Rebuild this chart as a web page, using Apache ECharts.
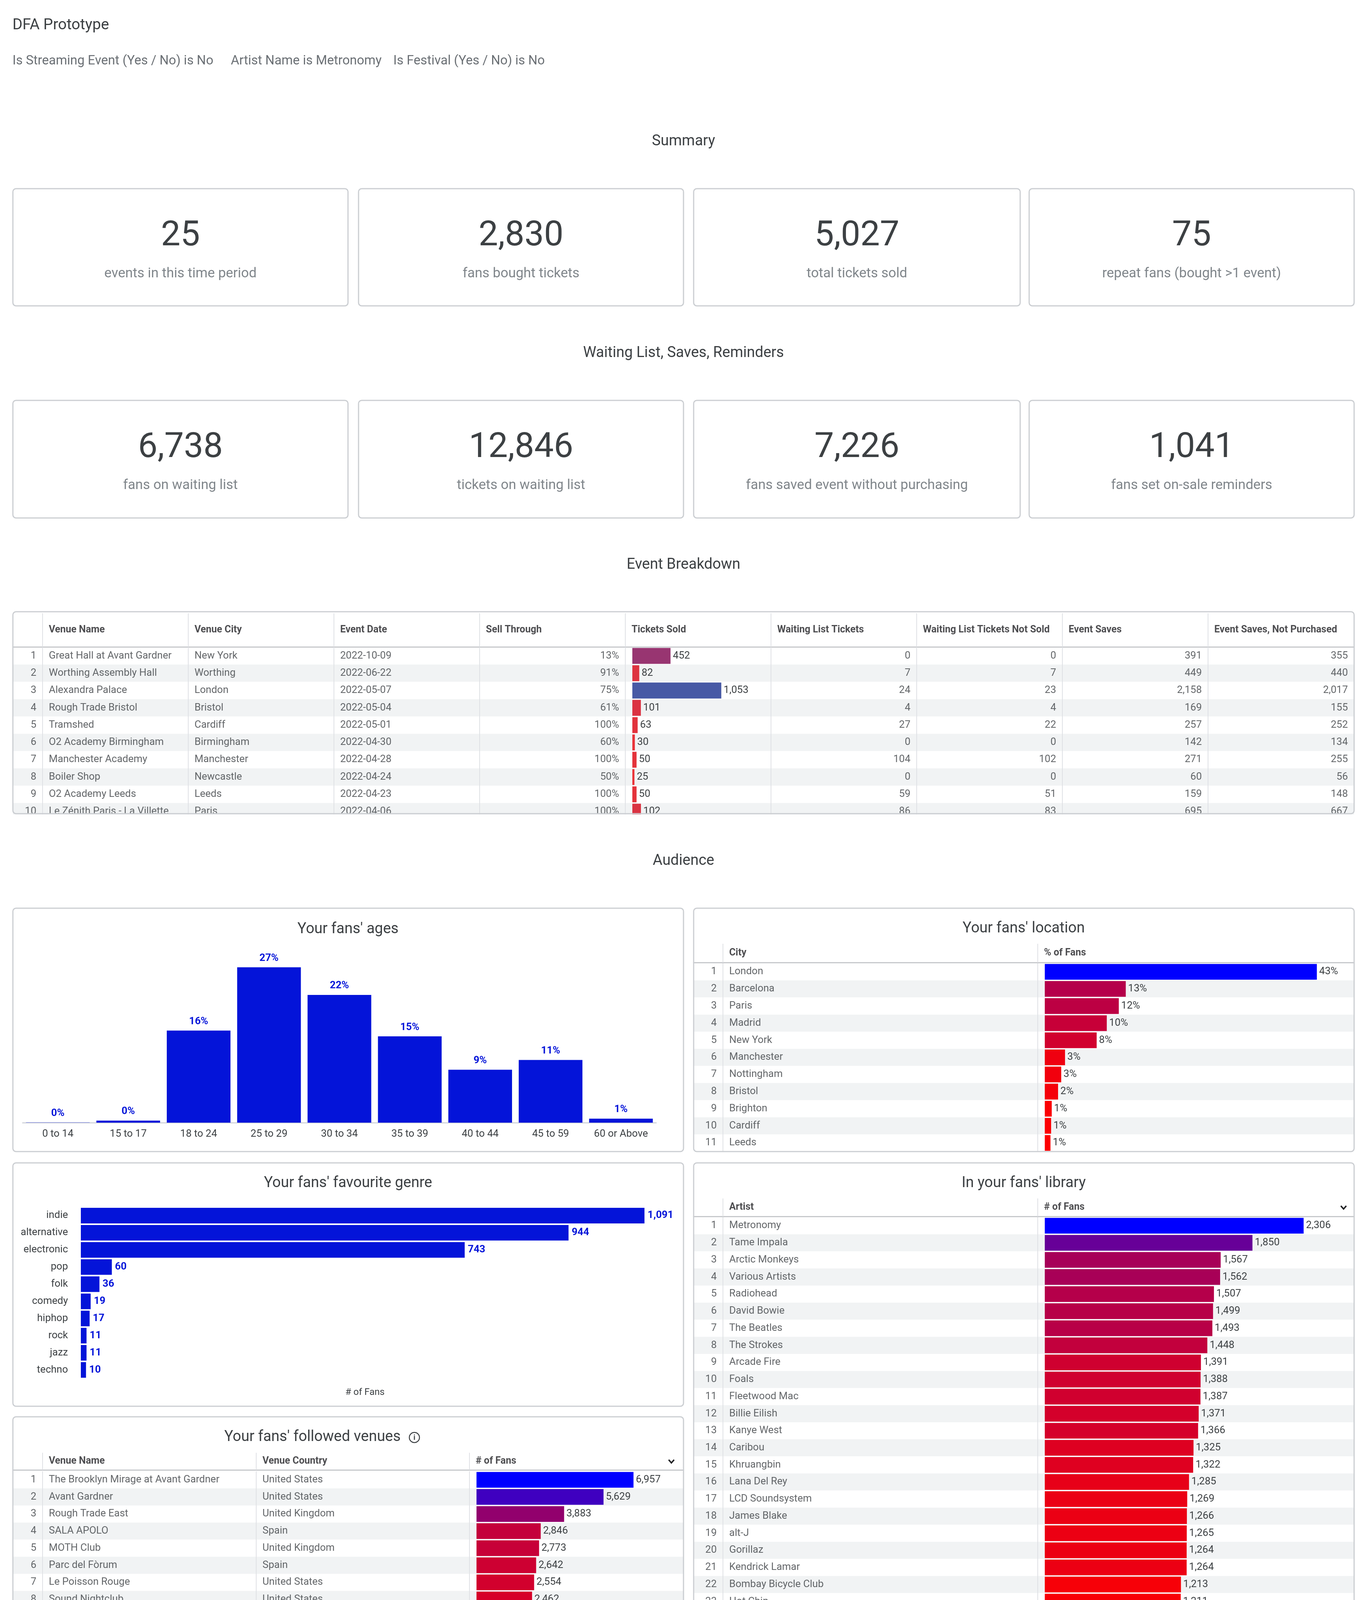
<!DOCTYPE html>
<html><head><meta charset="utf-8">
<script src="https://cdn.jsdelivr.net/npm/echarts@6/dist/echarts.min.js"></script>
<style>html,body{margin:0;padding:0;background:#fff}#c{width:3500px;height:5117px}</style>
</head><body><div id="c"></div>
<script>
// ---------------- DATA ----------------
const filterTexts = ['Is Streaming Event (Yes / No) is No', 'Artist Name is Metronomy', 'Is Festival (Yes / No) is No'];
const summaryValues = [25, 2830, 5027, 75];
const summaryLabels = ['events in this time period', 'fans bought tickets', 'total tickets sold', 'repeat fans (bought >1 event)'];
const waitingValues = [6738, 12846, 7226, 1041];
const waitingLabels = ['fans on waiting list', 'tickets on waiting list', 'fans saved event without purchasing', 'fans set on-sale reminders'];

const eventVenues = ['Great Hall at Avant Gardner', 'Worthing Assembly Hall', 'Alexandra Palace', 'Rough Trade Bristol', 'Tramshed', 'O2 Academy Birmingham', 'Manchester Academy', 'Boiler Shop', 'O2 Academy Leeds', 'Le Zénith Paris - La Villette'];
const eventCities = ['New York', 'Worthing', 'London', 'Bristol', 'Cardiff', 'Birmingham', 'Manchester', 'Newcastle', 'Leeds', 'Paris'];
const eventDates = ['2022-10-09', '2022-06-22', '2022-05-07', '2022-05-04', '2022-05-01', '2022-04-30', '2022-04-28', '2022-04-24', '2022-04-23', '2022-04-06'];
const eventSellThrough = [13, 91, 75, 61, 100, 60, 100, 50, 100, 100];
const eventTicketsSold = [452, 82, 1053, 101, 63, 30, 50, 25, 50, 102];
const eventWaitingTickets = [0, 7, 24, 4, 27, 0, 104, 0, 59, 86];
const eventWaitingNotSold = [0, 7, 23, 4, 22, 0, 102, 0, 51, 83];
const eventSaves = [391, 449, 2158, 169, 257, 142, 271, 60, 159, 695];
const eventSavesNotPurchased = [355, 440, 2017, 155, 252, 134, 255, 56, 148, 667];

const ageCategories = ['0 to 14', '15 to 17', '18 to 24', '25 to 29', '30 to 34', '35 to 39', '40 to 44', '45 to 59', '60 or Above'];
const agePercent = [0.04, 0.35, 16.0, 27.0, 22.2, 15.0, 9.2, 10.9, 0.7];

const locationCities = ['London', 'Barcelona', 'Paris', 'Madrid', 'New York', 'Manchester', 'Nottingham', 'Bristol', 'Brighton', 'Cardiff', 'Leeds'];
const locationPercent = [43.0, 12.8, 11.7, 9.8, 8.2, 3.2, 2.6, 2.1, 1.1, 1.0, 0.9];

const genreNames = ['indie', 'alternative', 'electronic', 'pop', 'folk', 'comedy', 'hiphop', 'rock', 'jazz', 'techno'];
const genreFans = [1091, 944, 743, 60, 36, 19, 17, 11, 11, 10];

const libraryArtists = ['Metronomy', 'Tame Impala', 'Arctic Monkeys', 'Various Artists', 'Radiohead', 'David Bowie', 'The Beatles', 'The Strokes', 'Arcade Fire', 'Foals', 'Fleetwood Mac', 'Billie Eilish', 'Kanye West', 'Caribou', 'Khruangbin', 'Lana Del Rey', 'LCD Soundsystem', 'James Blake', 'alt-J', 'Gorillaz', 'Kendrick Lamar', 'Bombay Bicycle Club', 'Hot Chip', 'The xx', 'The Weeknd'];
const libraryFans = [2306, 1850, 1567, 1562, 1507, 1499, 1493, 1448, 1391, 1388, 1387, 1371, 1366, 1325, 1322, 1285, 1269, 1266, 1265, 1264, 1264, 1213, 1211, 1184, 1179];

const venueNames = ['The Brooklyn Mirage at Avant Gardner', 'Avant Gardner', 'Rough Trade East', 'SALA APOLO', 'MOTH Club', 'Parc del Fòrum', 'Le Poisson Rouge', 'Sound Nightclub', 'Public Records', 'Wanderlust', 'Circolo Magnolia (Estivo)'];
const venueCountries = ['United States', 'United States', 'United Kingdom', 'Spain', 'United Kingdom', 'Spain', 'United States', 'United States', 'United States', 'France', 'Italy'];
const venueFans = [6957, 5629, 3883, 2846, 2773, 2642, 2554, 2462, 2240, 2161, 2069];

const alsoEventNames = ['Primavera Sound - Weekend 1', 'PRIMAVERA SOUND BARCELONA 2020', 'Primavera Sound - Weekend 2', 'Primavera Sound - Weekends 1 And 2', 'Wide Awake Festival 2021', 'ALL POINTS EAST: BON IVER', 'ALL POINTS EAST: THE CHEMICAL BROTHERS', 'Wide Awake 2022 - Weekend Ticket', 'All Points East Festival: Jamie xx + Kano (NHS COVID PASS REQUIRED)', 'Metronomy', 'ALL POINTS EAST: THE STROKES'];
const alsoEventDates = ['2022-06-02', '2020-08-27', '2022-06-09', '2022-06-02', '2021-09-03', '2019-06-02', '2019-05-24', '2022-05-27', '2021-08-28', '2022-05-07', '2019-05-25'];
const alsoVenueNames = ['Parc del Fòrum', 'Parc del Fòrum', 'Parc del Fòrum', 'Parc del Fòrum', 'Brockwell Park', 'Victoria Park', 'Victoria Park', 'Brockwell Park', 'Victoria Park', 'Alexandra Palace', 'Victoria Park'];
const alsoFans = [1175, 911, 800, 591, 579, 556, 547, 545, 518, 514, 509];

// ---------------- HELPERS ----------------
const FONT = 'Roboto, "Noto Sans", "DejaVu Sans", sans-serif';
const TXT = '#3c4043';
const BLUE = '#0414d9';
const fmtNum = v => Number(v).toLocaleString('en-US');
const fmtPct = v => Math.round(v) + '%';

function hexToRgb(h) { h = h.replace('#', ''); return [parseInt(h.substr(0, 2), 16), parseInt(h.substr(2, 2), 16), parseInt(h.substr(4, 2), 16)]; }
function lerpColor(t, stops) {
  if (echarts.color && echarts.color.lerp) return echarts.color.lerp(t, stops);
  const n = stops.length - 1, p = t * n, i = Math.min(Math.floor(p), n - 1), f = p - i;
  const a = hexToRgb(stops[i]), b = hexToRgb(stops[i + 1]);
  return 'rgb(' + a.map((c, k) => Math.round(c + (b[k] - c) * f)).join(',') + ')';
}
function scaleColor(v, lo, hi, stops) {
  const t = Math.max(0, Math.min(1, (v - lo) / (hi - lo)));
  return lerpColor(t, stops);
}

const option = {
  animation: false,
  backgroundColor: '#ffffff',
  textStyle: { fontFamily: FONT },
  grid: [], xAxis: [], yAxis: [], series: [],
  graphic: { elements: [] }
};
const G = option.graphic.elements;

function addGrid(grid, xa, ya) {
  const i = option.grid.length;
  option.grid.push(Object.assign({ containLabel: false }, grid));
  option.xAxis.push(Object.assign({ gridIndex: i }, xa));
  option.yAxis.push(Object.assign({ gridIndex: i }, ya));
  return i;
}
function text(x, y, str, size, color, align, weight, z) {
  G.push({ type: 'text', x: x, y: y, z: z || 110, silent: true,
    style: { text: str, fontSize: size, fontFamily: FONT, fontWeight: weight || 'normal', fill: color,
      align: align || 'left', textAlign: align || 'left', verticalAlign: 'middle', textVerticalAlign: 'middle' } });
}
function card(x1, y1, x2, y2) {
  G.push({ type: 'rect', z: 105, silent: true, shape: { x: x1, y: y1, width: x2 - x1, height: y2 - y1, r: 8 },
    style: { fill: 'none', stroke: '#cbced2', lineWidth: 3 } });
}
function chevron(x, y) {
  G.push({ type: 'polyline', z: 110, silent: true, shape: { points: [[x - 7, y - 4], [x, y + 4], [x + 7, y - 4]] },
    style: { fill: 'none', stroke: '#202124', lineWidth: 3.5 } });
}

function table(t) {
  const W = t.right - t.left;
  const starts = []; let acc = 0;
  t.cols.forEach(c => { starts.push(acc); acc += c.w; });
  const sep = { silent: true, symbol: ['none', 'none'], label: { show: false }, emphasis: { disabled: true }, animation: false,
    lineStyle: { color: '#dfe1e5', width: 2, type: 'solid' }, data: starts.slice(1).map(b => ({ xAxis: b })) };
  const rowIds = Array.from({ length: t.n }, (_, i) => String(i + 1));
  // header
  const hg = addGrid({ left: t.left, top: t.headTop, width: W, height: t.headH },
    { type: 'value', min: 0, max: W, position: 'bottom', axisLine: { show: true, onZero: false, lineStyle: { color: '#c7c9cc', width: 3 } },
      axisTick: { show: false }, axisLabel: { show: false }, splitLine: { show: false } },
    { type: 'category', data: ['header'], show: false });
  option.series.push({ type: 'scatter', xAxisIndex: hg, yAxisIndex: hg, symbolSize: 1, silent: true, itemStyle: { color: 'rgba(0,0,0,0)' },
    data: t.cols.map((c, i) => c.title ? { value: [starts[i] + 16, 0], name: c.title } : null).filter(Boolean),
    label: { show: true, position: 'inside', formatter: '{b}', align: 'left', verticalAlign: 'middle', fontSize: 25, fontWeight: 'bold', color: '#202124', fontFamily: FONT },
    markLine: sep });
  // body
  const bg = addGrid({ left: t.left, top: t.bodyTop, width: W, height: t.n * t.rowH },
    { type: 'value', min: 0, max: W, show: false },
    { type: 'category', inverse: true, data: rowIds, axisLine: { show: false }, axisTick: { show: false },
      axisLabel: { show: false, interval: 0 }, splitLine: { show: false },
      splitArea: { show: true, interval: 0, areaStyle: { color: ['#ffffff', '#f1f3f4'] } } });
  t.cols.forEach((c, i) => {
    const vals = c.index ? rowIds : c.values;
    if (c.bar) {
      const bx = t.left + starts[i] + 18;
      const bw = c.w - 18;
      const hi = Math.max.apply(null, vals);
      const bi = addGrid({ left: bx, top: t.bodyTop, width: bw, height: t.n * t.rowH },
        { type: 'value', min: 0, max: bw / c.bar.pxPerUnit, show: false },
        { type: 'category', inverse: true, data: rowIds, show: false });
      option.series.push({ type: 'bar', xAxisIndex: bi, yAxisIndex: bi, silent: true, barCategoryGap: '8%', z: 3,
        data: vals.map(v => ({ value: v, itemStyle: { color: scaleColor(v, c.bar.lo, hi, c.bar.stops) } })),
        label: { show: true, position: 'right', distance: 6, formatter: p => (c.fmt || fmtNum)(p.value), fontSize: 26, color: TXT, fontFamily: FONT } });
    } else {
      const align = c.align || 'left';
      const x = align === 'right' ? starts[i] + c.w - 16 : starts[i] + 16;
      option.series.push({ type: 'scatter', xAxisIndex: bg, yAxisIndex: bg, symbolSize: 1, silent: true, itemStyle: { color: 'rgba(0,0,0,0)' },
        data: vals.map((v, r) => ({ value: [x, r], name: c.fmt ? c.fmt(v) : String(v) })),
        label: Object.assign({ show: true, position: 'inside', formatter: '{b}', align: align, verticalAlign: 'middle', fontSize: 26, color: TXT, fontFamily: FONT },
          c.trunc ? { width: c.w - 34, overflow: 'truncate', ellipsis: '...' } : {}),
        markLine: i === 0 ? sep : undefined });
    }
  });
}

// ---------------- PAGE TEXT ----------------
text(32, 65, 'DFA Prototype', 39, TXT);
const filterX = [32, 591, 1007];
filterTexts.forEach((f, i) => text(filterX[i], 157, f, 33, '#6b7075'));
text(1750, 362, 'Summary', 38, TXT, 'center');
text(1750, 904, 'Waiting List, Saves, Reminders', 38, TXT, 'center');
text(1750, 1446, 'Event Breakdown', 38, TXT, 'center');
text(1750, 2204, 'Audience', 38, TXT, 'center');
text(33, 5045, 'Generated by Looker on May 30, 2022 at 11:38 AM BST', 26, '#9aa0a6');

// KPI tiles
const kpiX = [[33, 891], [918, 1750], [1776, 2612], [2635, 3467]];
function kpiRow(values, labels, y1, y2) {
  values.forEach((v, i) => {
    const [a, b] = kpiX[i];
    card(a, y1, b, y2);
    text((a + b) / 2, y1 + 123, fmtNum(v), 89, TXT, 'center');
    text((a + b) / 2, y1 + 218, labels[i], 35, '#80868b', 'center');
  });
}
kpiRow(summaryValues, summaryLabels, 483, 783);
kpiRow(waitingValues, waitingLabels, 1025, 1326);

// ---------------- EVENT BREAKDOWN TABLE ----------------
const ticketStops = ['#e93338', '#87357d', '#4759a5'];
table({ left: 33, right: 3467, headTop: 1570, headH: 86, bodyTop: 1657, rowH: 44.3, n: 10, cols: [
  { index: true, w: 76, align: 'right' },
  { title: 'Venue Name', w: 373, values: eventVenues },
  { title: 'Venue City', w: 373, values: eventCities },
  { title: 'Event Date', w: 373, values: eventDates },
  { title: 'Sell Through', w: 373, values: eventSellThrough, align: 'right', fmt: v => v + '%' },
  { title: 'Tickets Sold', w: 373, values: eventTicketsSold, bar: { pxPerUnit: 0.2163, lo: 25, stops: ticketStops } },
  { title: 'Waiting List Tickets', w: 373, values: eventWaitingTickets, align: 'right', fmt: fmtNum },
  { title: 'Waiting List Tickets Not Sold', w: 373, values: eventWaitingNotSold, align: 'right', fmt: fmtNum },
  { title: 'Event Saves', w: 373, values: eventSaves, align: 'right', fmt: fmtNum },
  { title: 'Event Saves, Not Purchased', w: 374, values: eventSavesNotPurchased, align: 'right', fmt: fmtNum }
] });
G.push({ type: 'rect', z: 104, silent: true, shape: { x: 20, y: 2085, width: 3460, height: 30 }, style: { fill: '#ffffff' } });
card(33, 1566, 3467, 2083);

// ---------------- AGES ----------------
card(33, 2325, 1750, 2948);
text(891, 2379, "Your fans' ages", 38, TXT, 'center');
const ag = addGrid({ left: 58, top: 2432, width: 1622, height: 442 },
  { type: 'category', data: ageCategories, axisLine: { show: true, lineStyle: { color: '#d3d6dc', width: 3 } }, axisTick: { show: false },
    axisLabel: { fontSize: 26, color: TXT, margin: 16, interval: 0, fontFamily: FONT } },
  { type: 'value', min: 0, max: 30, show: false });
option.series.push({ type: 'bar', xAxisIndex: ag, yAxisIndex: ag, data: agePercent, barCategoryGap: '9.5%', silent: true,
  itemStyle: { color: BLUE },
  label: { show: true, position: 'top', distance: 10, formatter: p => fmtPct(p.value), fontSize: 26, fontWeight: 'bold', color: BLUE, fontFamily: FONT } });

// ---------------- LOCATION ----------------
card(1776, 2325, 3467, 2948);
text(2621, 2377, "Your fans' location", 38, TXT, 'center');
const rbStops = ['#ff0000', '#0000ff'];
table({ left: 1776, right: 3467, headTop: 2416, headH: 48, bodyTop: 2466, rowH: 43.8, n: 11, cols: [
  { index: true, w: 75, align: 'right' },
  { title: 'City', w: 806, values: locationCities },
  { title: '% of Fans', w: 810, values: locationPercent, fmt: fmtPct, bar: { pxPerUnit: 16.2, lo: 0.5, stops: rbStops } }
] });

// ---------------- GENRE ----------------
card(33, 2977, 1750, 3600);
text(891, 3029, "Your fans' favourite genre", 38, TXT, 'center');
const gg = addGrid({ left: 207, top: 3090, width: 1455, height: 439 },
  { type: 'value', min: 0, max: 1100, axisLine: { show: false }, axisTick: { show: false }, axisLabel: { show: false }, splitLine: { show: false },
    name: '# of Fans', nameLocation: 'middle', nameGap: 24, nameTextStyle: { fontSize: 24, color: TXT, fontFamily: FONT } },
  { type: 'category', inverse: true, data: genreNames, axisLine: { show: false }, axisTick: { show: false },
    axisLabel: { fontSize: 26, color: TXT, margin: 33, interval: 0, fontFamily: FONT } });
option.series.push({ type: 'bar', xAxisIndex: gg, yAxisIndex: gg, data: genreFans, barCategoryGap: '9%', silent: true,
  itemStyle: { color: BLUE },
  label: { show: true, position: 'right', distance: 8, formatter: p => fmtNum(p.value), fontSize: 26, fontWeight: 'bold', color: BLUE, fontFamily: FONT } });

// ---------------- LIBRARY ----------------
card(1776, 2977, 3467, 4251);
text(2621, 3029, "In your fans' library", 38, TXT, 'center');
table({ left: 1776, right: 3467, headTop: 3068, headH: 46, bodyTop: 3116, rowH: 43.74, n: 25, cols: [
  { index: true, w: 75, align: 'right' },
  { title: 'Artist', w: 806, values: libraryArtists },
  { title: '# of Fans', w: 810, values: libraryFans, bar: { pxPerUnit: 0.2874, lo: 1179, stops: rbStops } }
] });
chevron(3440, 3091);

// ---------------- FOLLOWED VENUES ----------------
card(33, 3627, 1750, 4251);
text(800, 3679, "Your fans' followed venues", 38, TXT, 'center');
G.push({ type: 'circle', z: 110, silent: true, shape: { cx: 1061, cy: 3680, r: 13 }, style: { fill: 'none', stroke: TXT, lineWidth: 2.5 } });
text(1061, 3681, 'i', 19, TXT, 'center', 'bold');
table({ left: 33, right: 1750, headTop: 3719, headH: 44, bodyTop: 3766.5, rowH: 43.75, n: 11, cols: [
  { index: true, w: 76, align: 'right' },
  { title: 'Venue Name', w: 547, values: venueNames },
  { title: 'Venue Country', w: 546, values: venueCountries },
  { title: '# of Fans', w: 548, values: venueFans, bar: { pxPerUnit: 0.05778, lo: 1600, stops: rbStops } }
] });
chevron(1719, 3741);

// ---------------- FANS ALSO BOUGHT ----------------
card(33, 4276, 3467, 4902);
text(1750, 4328, 'Fans also bought tickets to:', 38, TXT, 'center');
table({ left: 33, right: 3467, headTop: 4368, headH: 46, bodyTop: 4416, rowH: 44, n: 11, cols: [
  { index: true, w: 77, align: 'right' },
  { title: 'Event Name', w: 833, values: alsoEventNames, trunc: true },
  { title: 'Event Date', w: 840, values: alsoEventDates },
  { title: 'Venue Name', w: 840, values: alsoVenueNames },
  { title: '# of Fans', w: 844, values: alsoFans, bar: { pxPerUnit: 0.5936, lo: 309, stops: rbStops } }
] });
chevron(3437, 4391);

const chart = echarts.init(document.getElementById('c'), null, { renderer: 'canvas' });
chart.setOption(option);
</script>
</body></html>
